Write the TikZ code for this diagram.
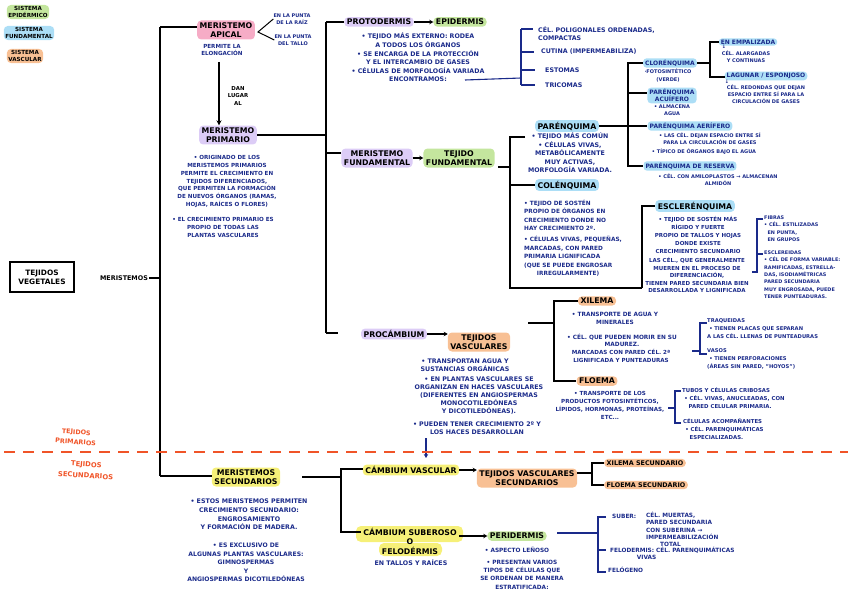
\documentclass[tikz,border=0pt]{standalone}
\usepackage{fontspec}
\setmainfont{DejaVu Sans}
\usetikzlibrary{arrows.meta}
\definecolor{navy}{RGB}{26,42,138}
\definecolor{hgreen}{RGB}{196,230,158}
\definecolor{hblue}{RGB}{172,222,246}
\definecolor{horange}{RGB}{248,192,148}
\definecolor{hpurple}{RGB}{220,204,246}
\definecolor{hpink}{RGB}{246,172,198}
\definecolor{hyellow}{RGB}{246,240,120}
\definecolor{redl}{RGB}{240,84,40}
\newcommand\fTit{\fontsize{7.8}{9.5}\selectfont\bfseries}
\newcommand\fSub{\fontsize{6}{7}\selectfont\bfseries}
\newcommand\fBody{\fontsize{6.3}{8.2}\selectfont\bfseries}
\newcommand\fMid{\fontsize{5.6}{7.8}\selectfont\bfseries}
\newcommand\fSmall{\fontsize{5}{7.2}\selectfont\bfseries}
\newcommand\fLeg{\fontsize{5.6}{6.8}\selectfont\bfseries}
\tikzset{
  ln/.style={line width=1.4pt, black},
  bln/.style={line width=1.1pt, navy},
  tx/.style={text=navy, font=\fBody, align=center, inner sep=0pt},
  txl/.style={text=navy, font=\fBody, align=left, inner sep=0pt},
  ttl/.style={font=\fTit, align=center, inner xsep=2.5pt, inner ysep=1.8pt, rounded corners=4pt, text=black},
  sub/.style={font=\fSub, text=navy, align=center, inner xsep=2pt, inner ysep=1.5pt, rounded corners=3.5pt, fill=hblue},
  arr/.style={line width=1.1pt, -{Stealth[length=4pt,width=4.5pt]}},
}
\begin{document}
\begin{tikzpicture}[x=1pt,y=-1pt]
\useasboundingbox (0,0) rectangle (848,599);

% legend
\node[ttl, font=\fLeg, fill=hgreen, inner sep=1.5pt] (lg1) at (28,12) {SISTEMA\\EPIDÉRMICO};
\node[ttl, font=\fLeg, fill=hblue, inner sep=1.5pt] (lg2) at (29,33) {SISTEMA\\FUNDAMENTAL};
\node[ttl, font=\fLeg, fill=horange, inner sep=1.5pt] (lg3) at (25,56) {SISTEMA\\VASCULAR};

% root
\node[draw, line width=1.1pt, font=\fontsize{7.4}{9}\selectfont\bfseries, align=center, minimum width=64pt, minimum height=30pt, inner sep=2pt] (tv) at (42,277) {TEJIDOS\\VEGETALES};
\node[font=\fontsize{6.4}{7}\selectfont\bfseries, inner sep=1pt] (mer) at (124,278) {MERISTEMOS};
\coordinate (sp1) at (160,27);
\coordinate (sp2) at (160,476);
\draw[ln] (mer.east) -- (mer.east -| sp1);
\draw[ln] (sp1) -- (sp2);

% meristemo apical
\node[ttl, fill=hpink] (ma) at (226,30) {MERISTEMO\\APICAL};
\draw[ln] (sp1) -- (ma.west |- sp1);
\coordinate (fk) at (258,32);
\node[tx, font=\fSmall] (raiz) at (292,19) {EN LA PUNTA\\DE LA RAÍZ};
\node[tx, font=\fSmall] (tallo) at (293,40) {EN LA PUNTA\\DEL TALLO};
\draw[line width=1pt] (raiz.west) -- (fk) -- (tallo.west);
\node[tx, font=\fMid] (elong) at (222,50) {PERMITE LA\\ELONGACIÓN};
\node[ttl, fill=hpurple] (mp) at (228,135) {MERISTEMO\\PRIMARIO};
\draw[ln, -{Stealth[length=5pt,width=5pt]}] (219,62) -- (219,62 |- mp.north);
\node[font=\fontsize{5.4}{7.4}\selectfont\bfseries, align=center, inner sep=0pt] (dan) at (238,96) {DAN\\LUGAR\\AL};

\node[tx, font=\fMid] (mpt1) at (227,181.5) {• ORIGINADO DE LOS\\MERISTEMOS PRIMARIOS\\PERMITE EL CRECIMIENTO EN\\TEJIDOS DIFERENCIADOS,\\QUE PERMITEN LA FORMACIÓN\\DE NUEVOS ÓRGANOS (RAMAS,\\HOJAS, RAÍCES O FLORES)};
\node[tx, font=\fMid] (mpt2) at (223,227.5) {• EL CRECIMIENTO PRIMARIO ES\\PROPIO DE TODAS LAS\\PLANTAS VASCULARES};

% primary spine
\coordinate (sp3) at (326,22);
\coordinate (sp4) at (326,333);
\draw[ln] (mp.east) -- (mp.east -| sp3);
\draw[ln] (sp3) -- (sp4);

% protodermis
\node[ttl, fill=hpurple] (pd) at (379,22) {PROTODERMIS};
\draw[ln] (sp3) -- (pd.west);
\node[ttl, fill=hgreen] (ep) at (460,22) {EPIDERMIS};
\draw[arr] (pd.east) -- (ep.west);
\node[tx] (pdt) at (418,57.5) {• TEJIDO MÁS EXTERNO: RODEA\\A TODOS LOS ÓRGANOS\\[1pt]• SE ENCARGA DE LA PROTECCIÓN\\Y EL INTERCAMBIO DE GASES\\[1pt]• CÉLULAS DE MORFOLOGÍA VARIADA\\ENCONTRAMOS:};
\coordinate (pdl) at (465,80);
\coordinate (eb0) at (521,78);
\coordinate (eb1) at (521,29);
\coordinate (eb2) at (521,85);
\draw[bln] (pdl) -- (eb0);
\draw[bln] (eb1) -- (eb2);
\node[txl, anchor=west] (e1) at (538,34) {CÉL. POLIGONALES ORDENADAS,\\COMPACTAS};
\node[txl, anchor=west] (e2) at (541,52) {CUTINA (IMPERMEABILIZA)};
\node[txl, anchor=west] (e3) at (545,70) {ESTOMAS};
\node[txl, anchor=west] (e4) at (545,85) {TRICOMAS};
\draw[bln] (eb1) -- ++(12,0);
\draw[bln] (eb1 |- e2.west) -- ++(13,0);
\draw[bln] (eb1 |- e3.west) -- ++(14,0);
\draw[bln] (eb2) -- ++(14,0);

% meristemo fundamental
\node[ttl, fill=hpurple] (mf) at (377,158) {MERISTEMO\\FUNDAMENTAL};
\coordinate (b2) at (326,153);
\draw[ln] (b2) -- (b2 -| mf.west);
\node[ttl, fill=hgreen] (tf) at (459,158) {TEJIDO\\FUNDAMENTAL};
\draw[arr] (mf.east) -- (tf.west);
\coordinate (fb0) at (498,167);
\coordinate (fb1) at (510,137);
\coordinate (fb2) at (510,288);
\coordinate (fb3) at (642,288);
\draw[ln] (fb0) -- (510,167);
\draw[ln] (525,137) -- (fb1) -- (fb2) -- (fb3);

% parenquima
\node[ttl, fill=hblue] (pq) at (567,126) {PARÉNQUIMA};
\node[tx] (pqt) at (570,152.5) {• TEJIDO MÁS COMÚN\\[1pt]• CÉLULAS VIVAS,\\METABÓLICAMENTE\\MUY ACTIVAS,\\MORFOLOGÍA VARIADA.};
\node[sub] (cl) at (670,63) {CLORÉNQUIMA};
\node[tx, font=\fSmall] (clt) at (668,75.5) {·FOTOSINTÉTICO\\(VERDE)};
\node[sub] (acu) at (672,95.5) {PARÉNQUIMA\\ACUÍFERO};
\node[tx, font=\fSmall] (acut) at (672,110) {• ALMACENA\\AGUA};
\node[sub] (pa) at (690,126) {PARÉNQUIMA AERÍFERO};
\node[tx, font=\fSmall] (pat) at (710,139) {• LAS CÉL. DEJAN ESPACIO ENTRE SÍ\\PARA LA CIRCULACIÓN DE GASES};
\node[tx, font=\fSmall] (pat2) at (704,152) {• TÍPICO DE ÓRGANOS BAJO EL AGUA};
\node[sub] (pr) at (690,166) {PARÉNQUIMA DE RESERVA};
\node[tx, font=\fSmall] (prt) at (718,180) {• CÉL. CON AMILOPLASTOS → ALMACENAN\\ALMIDÓN};
\coordinate (pb1) at (628,63);
\coordinate (pb2) at (628,166);
\draw[ln] (pq.east) -- (pa.west);
\draw[ln] (cl.west) -- (pb1) -- (pb2) -- (pr.west);
\draw[ln] (pb1 |- 0,93) -- (acu.west |- 0,93);

\node[sub] (emp) at (748,42) {EN EMPALIZADA};
\node[tx, font=\fSmall] (empa) at (724,47) {↓};
\node[tx, font=\fSmall] (empt) at (746,56.5) {CÉL. ALARGADAS\\Y CONTINUAS};
\node[sub] (lag) at (766,76) {LAGUNAR / ESPONJOSO};
\node[tx, font=\fSmall] (laga) at (727,81.5) {↓};
\node[tx, font=\fSmall] (lagt) at (766,94) {CÉL. REDONDAS QUE DEJAN\\ESPACIO ENTRE SÍ PARA LA\\CIRCULACIÓN DE GASES};
\coordinate (cb1) at (710,42);
\coordinate (cb2) at (710,77);
\draw[ln] (cl.east) -- (cl.east -| cb1);
\draw[ln] (emp.west) -- (cb1) -- (cb2) -- (lag.west |- cb2);

% colenquima
\node[ttl, fill=hblue] (co) at (567,185) {COLÉNQUIMA};
\draw[ln] (fb1 |- co.west) -- (co.west);
\node[txl, font=\fontsize{5.8}{8.6}\selectfont\bfseries, anchor=north west] (cot) at (524,199.5) {• TEJIDO DE SOSTÉN\\PROPIO DE ÓRGANOS EN\\CRECIMIENTO DONDE NO\\HAY CRECIMIENTO 2º.\\[2pt]• CÉLULAS VIVAS, PEQUEÑAS,\\MARCADAS, CON PARED\\PRIMARIA LIGNIFICADA\\(QUE SE PUEDE ENGROSAR\\\hspace*{2.2em}IRREGULARMENTE)};

% esclerenquima
\node[ttl, fill=hblue] (esc) at (695,206) {ESCLERÉNQUIMA};
\draw[ln] (fb3) -- (fb3 |- esc.west) -- (esc.west);
\node[tx, font=\fontsize{5.5}{8}\selectfont\bfseries] (esct) at (698,235) {• TEJIDO DE SOSTÉN MÁS\\RÍGIDO Y FUERTE\\PROPIO DE TALLOS Y HOJAS\\DONDE EXISTE\\CRECIMIENTO SECUNDARIO};
\node[tx, font=\fontsize{5.5}{7.5}\selectfont\bfseries] (esct2) at (697,275) {LAS CÉL., QUE GENERALMENTE\\MUEREN EN EL PROCESO DE\\DIFERENCIACIÓN,\\TIENEN PARED SECUNDARIA BIEN\\DESARROLLADA Y LIGNIFICADA};
\coordinate (eb3) at (757,219);
\coordinate (eb4) at (757,272);
\draw[bln] (763,219) -- (eb3) -- (eb4) -- (752,272);
\draw[bln] (757,254) -- (763,254);
\node[txl, font=\fontsize{4.9}{7.5}\selectfont\bfseries, anchor=north west] (fib) at (764,215.5) {FIBRAS\\• CÉL. ESTILIZADAS\\\hspace*{0.7em}EN PUNTA,\\\hspace*{0.7em}EN GRUPOS};
\node[txl, font=\fontsize{4.9}{7.4}\selectfont\bfseries, anchor=north west] (escl) at (764,250.5) {ESCLEREIDAS\\• CÉL DE FORMA VARIABLE:\\RAMIFICADAS, ESTRELLA-\\DAS, ISODIAMÉTRICAS\\PARED SECUNDARIA\\MUY ENGROSADA, PUEDE\\TENER PUNTEADURAS.};

% procambium
\node[ttl, fill=hpurple] (pc) at (394,334) {PROCÁMBIUM};
\draw[ln] (sp4) -- ++(12,0);
\node[ttl, fill=horange] (tvas) at (479,342) {TEJIDOS\\VASCULARES};
\draw[arr] (pc.east) -- (pc.east -| tvas.west);
\node[tx] (tvt1) at (465,365) {• TRANSPORTAN AGUA Y\\SUSTANCIAS ORGÁNICAS};
\node[tx, font=\fontsize{6.3}{7.8}\selectfont\bfseries] (tvt2) at (479,395.5) {• EN PLANTAS VASCULARES SE\\ORGANIZAN EN HACES VASCULARES\\(DIFERENTES EN ANGIOSPERMAS\\MONOCOTILEDÓNEAS\\Y DICOTILEDÓNEAS).};
\node[tx] (tvt3) at (477,428) {• PUEDEN TENER CRECIMIENTO 2º Y\\LOS HACES DESARROLLAN};
\coordinate (ba1) at (426,438);
\coordinate (ba2) at (426,458);
\draw[bln, -{Stealth[length=4pt,width=4.5pt]}] (ba1) -- (ba2);

% xilema / floema
\node[ttl, fill=horange] (xi) at (597,301) {XILEMA};
\node[ttl, fill=horange] (fl) at (597,381) {FLOEMA};
\coordinate (xb0) at (528,323);
\coordinate (xb1) at (554,301);
\coordinate (xb2) at (554,381);
\draw[ln] (xb0) -- (xb0 -| xb1);
\draw[ln] (xi.west) -- (xb1) -- (xb2) -- (fl.west);
\node[tx, font=\fontsize{5.8}{8}\selectfont\bfseries] (xt1) at (615,318) {• TRANSPORTE DE AGUA Y\\MINERALES};
\node[tx, font=\fontsize{5.8}{7.5}\selectfont\bfseries] (xt2) at (622,340.5) {• CÉL. QUE PUEDEN MORIR EN SU\\MADUREZ.};
\node[tx, font=\fontsize{5.6}{8}\selectfont\bfseries] (xt3) at (621,356) {MARCADAS CON PARED CÉL. 2ª\\LIGNIFICADA Y PUNTEADURAS};
\coordinate (tb1) at (700,323);
\coordinate (tb2) at (700,354);
\draw[bln] (692,351) -- (700,351);
\draw[bln] (707,323) -- (tb1) -- (tb2) -- (707,354);
\node[txl, font=\fontsize{5.2}{8}\selectfont\bfseries, anchor=north west] (traq) at (707,318.5) {TRAQUEIDAS\\\hspace*{0.4em}• TIENEN PLACAS QUE SEPARAN\\A LAS CÉL. LLENAS DE PUNTEADURAS};
\node[txl, font=\fontsize{5.2}{8}\selectfont\bfseries, anchor=north west] (vas) at (707,348.5) {VASOS\\\hspace*{0.4em}• TIENEN PERFORACIONES\\(ÁREAS SIN PARED, "HOYOS")};

\node[tx, font=\fontsize{5.6}{8.2}\selectfont\bfseries] (ft) at (610,405.5) {• TRANSPORTE DE LOS\\PRODUCTOS FOTOSINTÉTICOS,\\LÍPIDOS, HORMONAS, PROTEÍNAS,\\ETC...};
\coordinate (tb3) at (675,391);
\coordinate (tb4) at (675,423);
\draw[bln] (668,408) -- (675,408);
\draw[bln] (681,391) -- (tb3) -- (tb4) -- (681,423);
\node[txl, font=\fontsize{5.4}{8}\selectfont\bfseries, anchor=north west] (tub) at (682,387.5) {TUBOS Y CÉLULAS CRIBOSAS\\\hspace*{0.4em}• CÉL. VIVAS, ANUCLEADAS, CON\\\hspace*{1.2em}PARED CELULAR PRIMARIA.};
\node[txl, font=\fontsize{5.4}{8}\selectfont\bfseries, anchor=north west] (acom) at (683,418.5) {CÉLULAS ACOMPAÑANTES\\\hspace*{0.4em}• CÉL. PARENQUIMÁTICAS\\\hspace*{1.2em}ESPECIALIZADAS.};

% divider
\draw[redl, line width=1.9pt, dash pattern=on 11pt off 8pt] (4,452) -- (848,452);
\node[text=redl, font=\fontsize{6.4}{10}\selectfont\bfseries, align=center, inner sep=0pt, rotate=-4] (tp) at (76,437) {TEJIDOS\\PRIMARIOS};
\node[text=redl, font=\fontsize{6.8}{11}\selectfont\bfseries, align=center, inner sep=0pt, rotate=-4] (ts) at (86,470) {TEJIDOS\\SECUNDARIOS};

% secundarios
\node[ttl, fill=hyellow] (ms) at (246,477) {MERISTEMOS\\SECUNDARIOS};
\draw[ln] (sp2) -- (ms.west |- sp2);
\node[tx, font=\fontsize{6.3}{8.8}\selectfont\bfseries] (mst1) at (249,514.5) {• ESTOS MERISTEMOS PERMITEN\\CRECIMIENTO SECUNDARIO:\\ENGROSAMIENTO\\Y FORMACIÓN DE MADERA.};
\node[tx, font=\fontsize{6.1}{8.6}\selectfont\bfseries] (mst2) at (246,562.5) {• ES EXCLUSIVO DE\\ALGUNAS PLANTAS VASCULARES:\\GIMNOSPERMAS\\Y\\ANGIOSPERMAS DICOTILEDÓNEAS};

\node[ttl, fill=hyellow] (cv) at (411,470) {CÁMBIUM VASCULAR};
\fill[hyellow, rounded corners=5pt] (356,526) rectangle (463,542);
\fill[hyellow, rounded corners=5pt] (379,543) rectangle (442,556);
\node[ttl] (cs) at (410,541) {CÁMBIUM SUBEROSO\\O\\FELODÉRMIS};
\coordinate (sb0) at (302,477);
\coordinate (sb1) at (341,469);
\coordinate (sb2) at (341,532);
\draw[ln] (sb0) -- (sb0 -| sb1);
\draw[ln] (cv.west |- sb1) -- (sb1) -- (sb2) -- (cs.west |- sb2);

\node[ttl, fill=horange] (tvs) at (527,478) {TEJIDOS VASCULARES\\SECUNDARIOS};
\draw[arr] (cv.east) -- (cv.east -| tvs.west);
\node[ttl, fill=horange, font=\fontsize{6.4}{7}\selectfont\bfseries] (xs) at (645,463) {XILEMA SECUNDARIO};
\node[ttl, fill=horange, font=\fontsize{6.4}{7}\selectfont\bfseries] (fs) at (646,485) {FLOEMA SECUNDARIO};
\coordinate (vb1) at (592,463);
\coordinate (vb2) at (592,485);
\draw[ln] (tvs.east |- 0,473) -- (592,473);
\draw[ln] (xs.west) -- (vb1) -- (vb2) -- (fs.west);

\node[tx] (cst) at (411,563) {EN TALLOS Y RAÍCES};
\node[ttl, fill=hgreen] (per) at (517,536) {PERIDERMIS};
\draw[arr] (cs.east |- per.west) -- (per.west);
\node[tx, font=\fontsize{5.8}{8}\selectfont\bfseries] (pt1) at (517,550) {• ASPECTO LEÑOSO};
\node[tx, font=\fontsize{5.8}{8.3}\selectfont\bfseries] (pt2) at (522,574.5) {• PRESENTAN VARIOS\\TIPOS DE CÉLULAS QUE\\SE ORDENAN DE MANERA\\ESTRATIFICADA:};

\coordinate (qb0) at (557,533);
\coordinate (qb1) at (598,517);
\coordinate (qb2) at (598,572);
\draw[bln] (qb0) -- (qb0 -| qb1);
\draw[bln] (606,517) -- (qb1) -- (qb2) -- (606,572);
\draw[bln] (598,550) -- (606,550);
\node[txl, font=\fontsize{5.8}{7.3}\selectfont\bfseries, anchor=west] (sub1) at (612,516) {SUBER:};
\node[txl, font=\fontsize{5.8}{7.3}\selectfont\bfseries, anchor=north west] (sub2) at (646,512) {CÉL. MUERTAS,\\PARED SECUNDARIA\\CON SUBERINA →\\IMPERMEABILIZACIÓN\\\hspace*{2.4em}TOTAL};
\node[txl, font=\fontsize{5.8}{7.3}\selectfont\bfseries, anchor=north west] (felo) at (610,547) {FELODERMIS: CÉL. PARENQUIMÁTICAS\\\hspace*{4.6em}VIVAS};
\node[txl, font=\fontsize{5.8}{7.3}\selectfont\bfseries, anchor=west] (felg) at (608,570) {FELÓGENO};
\end{tikzpicture}
\end{document}
